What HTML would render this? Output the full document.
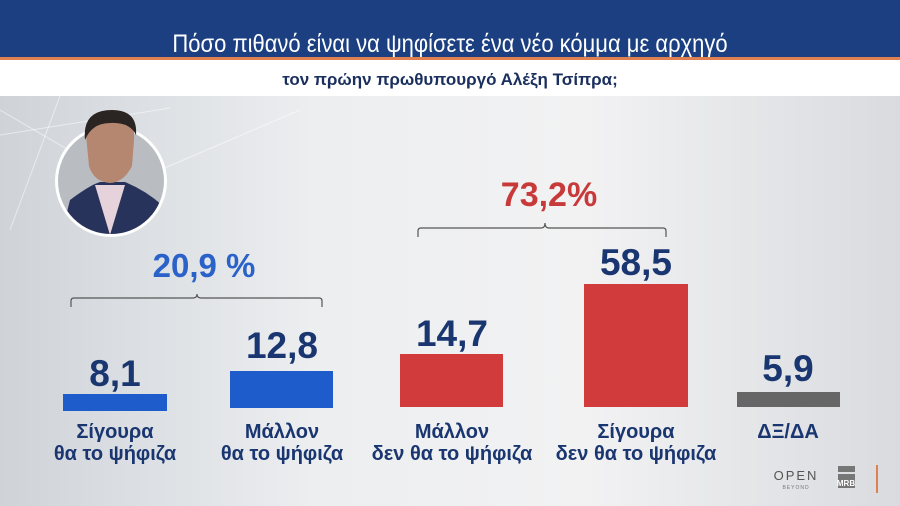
<!DOCTYPE html>
<html><head><meta charset="utf-8"><style>
html,body{margin:0;padding:0;width:900px;height:506px;overflow:hidden}
body{background:#e8e9eb}
text{font-family:"Liberation Sans Narrow","Liberation Sans",sans-serif}
</style></head><body>
<svg width="900" height="506" xmlns="http://www.w3.org/2000/svg">
<defs>
<linearGradient id="bg" x1="0" y1="0" x2="1" y2="0">
<stop offset="0" stop-color="#cfd3d8"/><stop offset="0.35" stop-color="#eceef0"/><stop offset="0.65" stop-color="#f2f2f3"/><stop offset="1" stop-color="#d9dbdf"/></linearGradient>
<clipPath id="c"><circle cx="111" cy="181" r="53"/></clipPath>
</defs>
<rect x="0" y="96" width="900" height="410" fill="url(#bg)"/>
<g stroke="#ffffff" stroke-opacity="0.5" stroke-width="1">
<line x1="0" y1="135" x2="170" y2="108"/><line x1="10" y1="230" x2="60" y2="96"/><line x1="0" y1="110" x2="120" y2="180"/><line x1="160" y1="170" x2="300" y2="110"/>
</g>
<rect x="0" y="0" width="900" height="57" fill="#1b3f80"/>
<rect x="0" y="57" width="900" height="3" fill="#e08050"/>
<rect x="0" y="60" width="900" height="36" fill="#ffffff"/>
<text x="450" y="52" text-anchor="middle" fill="#ffffff" font-size="25" transform="translate(450 0) scale(0.88 1) translate(-450 0)">Πόσο πιθανό είναι να ψηφίσετε ένα νέο κόμμα με αρχηγό</text>
<text x="450" y="85" text-anchor="middle" fill="#1a2f5e" font-size="17" font-weight="bold">τον πρώην πρωθυπουργό Αλέξη Τσίπρα;</text>
<!-- photo -->
<circle cx="111" cy="181" r="56" fill="#ffffff"/>
<g clip-path="url(#c)"><rect x="55" y="125" width="112" height="112" fill="#b9bcc0"/>
<path d="M60 240 L70 200 Q90 185 100 182 L125 182 Q145 190 162 205 L170 240Z" fill="#27335a"/>
<path d="M95 185 L110 235 L125 185Z" fill="#e6d2da"/></g>
<path d="M86 135 Q86 112 112 112 Q136 113 134 140 L132 166 Q124 182 110 183 Q94 182 89 166Z" fill="#b58670"/>
<path d="M85 140 Q82 110 112 110 Q138 110 136 135 Q130 122 110 123 Q92 123 85 140Z" fill="#2a2422"/>
<!-- bars -->
<rect x="63" y="394" width="104" height="17" fill="#1f5ccb"/>
<rect x="230" y="371" width="103" height="37" fill="#1f5ccb"/>
<rect x="400" y="354" width="103" height="53" fill="#d23b3b"/>
<rect x="584" y="284" width="104" height="123" fill="#d23b3b"/>
<rect x="737" y="392" width="103" height="15" fill="#666666"/>
<g font-size="37" font-weight="bold" fill="#1a3670" text-anchor="middle">
<text x="115" y="386">8,1</text>
<text x="282" y="358">12,8</text>
<text x="452" y="346">14,7</text>
<text x="636" y="275">58,5</text>
<text x="788" y="381">5,9</text>
</g>
<g font-size="20" font-weight="bold" fill="#1a3670" text-anchor="middle">
<text x="115" y="438">Σίγουρα</text><text x="115" y="460">θα το ψήφιζα</text>
<text x="282" y="438">Μάλλον</text><text x="282" y="460">θα το ψήφιζα</text>
<text x="452" y="438">Μάλλον</text><text x="452" y="460">δεν θα το ψήφιζα</text>
<text x="636" y="438">Σίγουρα</text><text x="636" y="460">δεν θα το ψήφιζα</text>
<text x="788" y="438">ΔΞ/ΔΑ</text>
</g>
<g fill="none" stroke="#555" stroke-width="1.2">
<path d="M71 307 V301 Q71 298 74 298 H193 Q197 298 197 294 Q197 298 201 298 H319 Q322 298 322 301 V307"/>
<path d="M418 237 V231 Q418 228 421 228 H541 Q545 228 545 223 Q545 228 549 228 H663 Q666 228 666 231 V237"/>
</g>
<text x="204" y="277" text-anchor="middle" font-size="33" font-weight="bold" fill="#2a62c9">20,9 %</text>
<text x="549" y="206" text-anchor="middle" font-size="34" font-weight="bold" fill="#c83a3a">73,2%</text>
<text x="796" y="480" text-anchor="middle" font-size="13" fill="#555" letter-spacing="2">OPEN</text>
<text x="796" y="489" text-anchor="middle" font-size="5" fill="#777" letter-spacing="1">BEYOND</text>
<rect x="838" y="466" width="17" height="6" fill="#777"/>
<rect x="838" y="474" width="17" height="14" fill="#777"/>
<text x="846" y="486" text-anchor="middle" font-size="8" font-weight="bold" fill="#fff">MRB</text>
<rect x="876" y="465" width="2" height="28" fill="#e08050"/>
</svg>
</body></html>
